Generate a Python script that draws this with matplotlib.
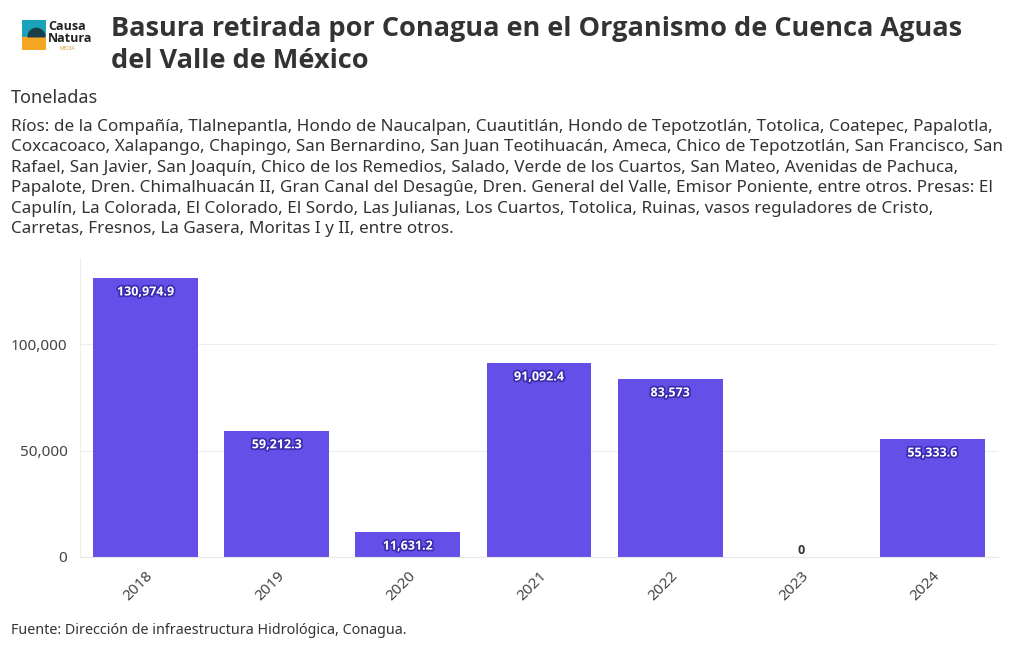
import matplotlib.pyplot as plt
import matplotlib.patheffects as pe
from matplotlib.patches import Rectangle, Wedge

years = ["2018", "2019", "2020", "2021", "2022", "2023", "2024"]
toneladas = [130974.9, 59212.3, 11631.2, 91092.4, 83573, 0, 55333.6]
etiquetas = ["130,974.9", "59,212.3", "11,631.2", "91,092.4", "83,573", "0", "55,333.6"]
yticks = [0, 50000, 100000]
ytick_labels = ["0", "50,000", "100,000"]

titulo = "Basura retirada por Conagua en el Organismo de Cuenca Aguas\ndel Valle de México"
subtitulo = "Toneladas"
descripcion = (
    "Ríos: de la Compañía, Tlalnepantla, Hondo de Naucalpan, Cuautitlán, Hondo de Tepotzotlán, Totolica, Coatepec, Papalotla,\n"
    "Coxcacoaco, Xalapango, Chapingo, San Bernardino, San Juan Teotihuacán, Ameca, Chico de Tepotzotlán, San Francisco, San\n"
    "Rafael, San Javier, San Joaquín, Chico de los Remedios, Salado, Verde de los Cuartos, San Mateo, Avenidas de Pachuca,\n"
    "Papalote, Dren. Chimalhuacán II, Gran Canal del Desagûe, Dren. General del Valle, Emisor Poniente, entre otros. Presas: El\n"
    "Capulín, La Colorada, El Colorado, El Sordo, Las Julianas, Los Cuartos, Totolica, Ruinas, vasos reguladores de Cristo,\n"
    "Carretas, Fresnos, La Gasera, Moritas I y II, entre otros."
)
fuente = "Fuente: Dirección de infraestructura Hidrológica, Conagua."

plt.rcParams['font.family'] = ['Noto Sans', 'DejaVu Sans']
negrita = ['Open Sans', 'DejaVu Sans']
W, H = 1020, 650
fig = plt.figure(figsize=(W / 100, H / 100), dpi=100)

# logo
lg = fig.add_axes([22 / W, 1 - 50 / H, 24 / W, 30 / H])
lg.set_xlim(0, 1)
lg.set_ylim(0, 1.25)
lg.axis('off')
lg.add_patch(Rectangle((0, 0.55), 1, 0.7, color='#1aa3b8'))
lg.add_patch(Rectangle((0, 0), 1, 0.55, color='#f5a623'))
lg.add_patch(Wedge((0.6, 0.55), 0.35, 0, 180, color='#1a3d4a'))
fig.text(48 / W, 1 - 26 / H, "Causa", fontsize=9, fontweight='bold', family=negrita,
         color='#222222', va='center')
fig.text(48 / W, 1 - 38 / H, "Natura", fontsize=9, fontweight='bold', family=negrita,
         color='#222222', va='center')
fig.text(60 / W, 1 - 48 / H, "MEDIA", fontsize=3.5, color='#d9a441', va='center')

fig.text(111 / W, 1 - 45 / H, titulo, fontsize=19.5, fontweight='bold', family=negrita,
         color='#333333', va='center', linespacing=1.3)
fig.text(11 / W, 1 - 98 / H, subtitulo, fontsize=13, color='#333333', va='center')
fig.text(11 / W, 1 - 119 / H, descripcion, fontsize=12.3, color='#333333', va='top',
         linespacing=1.37)
fig.text(11 / W, 1 - 631 / H, fuente, fontsize=10.3, color='#333333', va='center')

ax = fig.add_axes([80 / W, 1 - 557 / H, 918 / W, 299 / H])
x = range(len(years))
bars = ax.bar(x, toneladas, width=0.8, color='#6450e8', zorder=2)
ax.set_xlim(-0.5, len(years) - 0.5)
ax.set_ylim(0, 140400)
ax.set_yticks(yticks)
ax.set_yticklabels(ytick_labels)
ax.set_xticks(list(x))
ax.set_xticklabels(years, rotation=45, ha='right', rotation_mode='anchor')
ax.grid(axis='y', color='#eeeeee', linewidth=0.8, zorder=0)
for s in ['top', 'right']:
    ax.spines[s].set_visible(False)
ax.spines['left'].set_color('#eeeeee')
ax.spines['bottom'].set_color('#e6e6e6')
ax.tick_params(axis='both', length=0, labelsize=11, labelcolor='#444444')
ax.tick_params(axis='y', pad=9)
ax.tick_params(axis='x', pad=8)

for xi, v, lab in zip(x, toneladas, etiquetas):
    if v > 0:
        ax.annotate(lab, (xi, v), xytext=(0, -10), textcoords='offset points',
                    ha='center', va='center', fontsize=9, fontweight='bold', family=negrita,
                    color='white',
                    path_effects=[pe.withStroke(linewidth=2.5, foreground='#3b2cb0')])
    else:
        ax.annotate(lab, (xi, v), xytext=(0, 5), textcoords='offset points',
                    ha='center', va='center', fontsize=9, fontweight='bold', family=negrita,
                    color='#333333')

fig.savefig('out.png', dpi=100)
